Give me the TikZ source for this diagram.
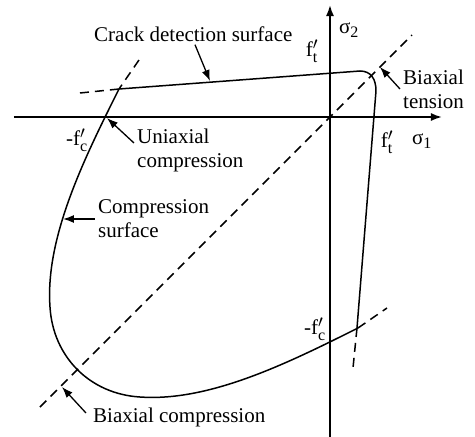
\documentclass[tikz,border=0pt]{standalone}
\usepackage{fontspec}
\setmainfont{Liberation Serif}
\DeclareMathSizes{21}{21}{16}{12}
\usetikzlibrary{arrows.meta}

\begin{document}
\begin{tikzpicture}[x=1pt, y=1pt, >={Latex[length=11pt,width=8pt]},
	envelope/.style={line width=1.5pt},
	guide/.style={line width=1.5pt, dash pattern=on 9pt off 6pt},
	lbl/.style={font=\fontsize{21}{24}\selectfont, inner sep=3pt, align=left},
	pointer/.style={line width=1.3pt, ->}]
	\useasboundingbox (-330,-320) rectangle (145,117);
	% stress axes
	\draw[line width=1.8pt, ->] (-316,0) -- (112,0);
	\draw[line width=1.8pt, ->] (0,-320) -- (0,112);
	% equal biaxial line
	\draw[guide] (-290,-290) -- (82,82);
	% crack detection surface
	\draw[guide] (-250,24) -- (-211,28);
	\draw[envelope] (-211,28) -- (30,46) .. controls (41,46) and (46,38) .. (46,26) -- (27,-211);
	\draw[guide] (27,-211) -- (23,-251);
	% compression surface
	\draw[guide] (-191,57) -- (-211,28);
	\draw[envelope] (-211,28) .. controls (-245,-40) and (-285,-120) .. (-280,-190)
		.. controls (-277,-240) and (-240,-277) .. (-190,-280)
		.. controls (-120,-285) and (-40,-245) .. (28,-211);
	\draw[guide] (28,-211) -- (57,-191);
	% points the labels refer to
	\coordinate (crackpt) at (-120,36);
	\coordinate (uniaxpt) at (-223,-1);
	\coordinate (comppt) at (-267,-102);
	\coordinate (bcpt) at (-268,-270);
	\coordinate (btpt) at (50,50);
	% labels
	\node[lbl, anchor=west] (crack) at (-239,83) {Crack detection surface};
	\node[lbl, anchor=west] (uniax) at (-196,-33) {Uniaxial\\compression};
	\node[lbl, anchor=west] (compsurf) at (-235,-102) {Compression\\surface};
	\node[lbl, anchor=west] (biaxcomp) at (-240,-300) {Biaxial compression};
	\node[lbl, anchor=west] (biaxten) at (70,28) {Biaxial\\tension};
	\node[lbl] (fcleft) at (-253,-23) {-f$'_{\mathrm{c}}$};
	\node[lbl] (fcbot) at (-15,-212) {-f$'_{\mathrm{c}}$};
	\node[lbl] (fttop) at (-18,66) {f$'_{\mathrm{t}}$};
	\node[lbl] (ftright) at (57,-25) {f$'_{\mathrm{t}}$};
	\node[lbl] (sone) at (92,-24) {σ$_{\mathrm{1}}$};
	\node[lbl] (stwo) at (19,87) {σ$_{\mathrm{2}}$};
	% pointers
	\draw[pointer] ([xshift=104pt]crack.south west) -- (crackpt);
	\draw[pointer] ([yshift=7pt]uniax.west) -- (uniaxpt);
	\draw[pointer] (compsurf.west) -- (comppt);
	\draw[pointer] ([shift={(-4pt,4pt)}]biaxcomp.west) -- (bcpt);
	\draw[pointer] (biaxten.west) -- (btpt);
\end{tikzpicture}
\end{document}
